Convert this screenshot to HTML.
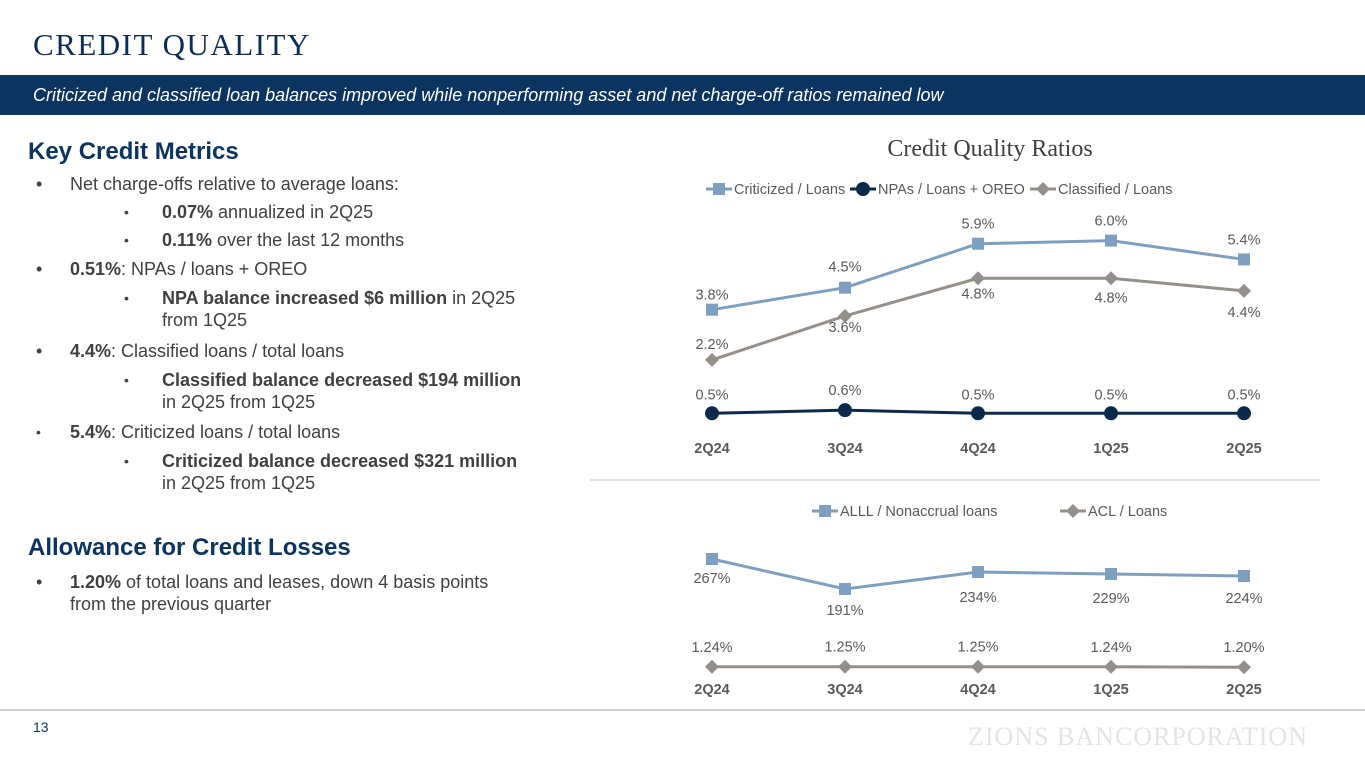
<!DOCTYPE html>
<html><head><meta charset="utf-8"><style>
body{margin:0;width:1365px;height:768px;background:#fff;font-family:"Liberation Sans",sans-serif;position:relative;overflow:hidden}
.abs{position:absolute}
.title{left:33px;top:27px;font-family:"Liberation Serif",serif;font-size:31px;color:#0d2d57;letter-spacing:1.5px}
.band{left:0;top:75px;width:1365px;height:40px;background:#0b3461}
.band span{position:absolute;left:33px;top:10px;color:#fff;font-style:italic;font-size:18px}
.h{font-size:24px;font-weight:bold;color:#0b3461}
.t{font-size:18px;color:#404040;line-height:22px}
</style></head><body>
<div class="abs title">CREDIT QUALITY</div>
<div class="abs band"><span>Criticized and classified loan balances improved while nonperforming asset and net charge-off ratios remained low</span></div>
<div class="abs h" style="left:28px;top:138px">Key Credit Metrics</div>
<div>
<div class="abs t" style="left:70px;top:173px"><span style="position:absolute;left:-34px">•</span>Net charge-offs relative to average loans:</div>
<div class="abs t" style="left:162px;top:201px"><span style="position:absolute;left:-38px;font-size:14px">•</span><b>0.07%</b> annualized in 2Q25</div>
<div class="abs t" style="left:162px;top:229px"><span style="position:absolute;left:-38px;font-size:14px">•</span><b>0.11%</b> over the last 12 months</div>
<div class="abs t" style="left:70px;top:258px"><span style="position:absolute;left:-34px">•</span><b>0.51%</b>: NPAs / loans + OREO</div>
<div class="abs t" style="left:162px;top:287px;width:420px"><span style="position:absolute;left:-38px;font-size:14px">•</span><b>NPA balance increased $6 million</b> in 2Q25<br>from 1Q25</div>
<div class="abs t" style="left:70px;top:340px"><span style="position:absolute;left:-34px">•</span><b>4.4%</b>: Classified loans / total loans</div>
<div class="abs t" style="left:162px;top:369px;width:420px"><span style="position:absolute;left:-38px;font-size:14px">•</span><b>Classified balance decreased $194 million</b><br>in 2Q25 from 1Q25</div>
<div class="abs t" style="left:70px;top:421px"><span style="position:absolute;left:-34px;font-size:14px">•</span><b>5.4%</b>: Criticized loans / total loans</div>
<div class="abs t" style="left:162px;top:450px;width:420px"><span style="position:absolute;left:-38px;font-size:14px">•</span><b>Criticized balance decreased $321 million</b><br>in 2Q25 from 1Q25</div>
</div>
<div class="abs h" style="left:28px;top:534px">Allowance for Credit Losses</div>
<div class="abs t" style="left:70px;top:571px;width:520px"><span style="position:absolute;left:-34px">•</span><b>1.20%</b> of total loans and leases, down 4 basis points<br>from the previous quarter</div>
<div class="abs" style="left:0;top:709px;width:1365px;height:2px;background:#d0d0d0"></div>
<div class="abs" style="left:33px;top:719px;font-size:14px;color:#0b3461">13</div>
<div class="abs" style="left:968px;top:722px;font-family:'Liberation Serif',serif;font-size:26px;color:#e4e4e4;letter-spacing:1px">ZIONS BANCORPORATION</div>
<svg class="abs" style="left:0;top:0" width="1365" height="768" id="chart">
<text x="990" y="156" text-anchor="middle" font-family="Liberation Serif,serif" font-size="24" fill="#404040">Credit Quality Ratios</text>
<line x1="590" y1="480" x2="1320" y2="480" stroke="#e0e0e0" stroke-width="2"/>
</svg>
<script>
const categories=["2Q24","3Q24","4Q24","1Q25","2Q25"];
const criticized=[3.8,4.5,5.9,6.0,5.4];
const npas=[0.5,0.6,0.5,0.5,0.5];
const classified=[2.2,3.6,4.8,4.8,4.4];
const alll=[267,191,234,229,224];
const acl=[1.24,1.25,1.25,1.24,1.20];
const NS="http://www.w3.org/2000/svg";
const svg=document.getElementById('chart');
const X=i=>712+i*133;
const Y1=v=>429-v*31.4;
const Y2=v=>559-(v-267)*0.395;
const Y3=v=>667-(v-1.22)*10;
function el(t,a,p){const e=document.createElementNS(NS,t);for(const k in a)e.setAttribute(k,a[k]);(p||svg).appendChild(e);return e;}
function txt(x,y,s,o){const e=el('text',Object.assign({x:x,y:y,'text-anchor':'middle','font-size':14.5,fill:'#595959'},o||{}));e.textContent=s;return e;}
function marker(type,x,y,c,g){
 if(type==='sq')return el('rect',{x:x-6,y:y-6,width:12,height:12,fill:c},g);
 if(type==='ci')return el('circle',{cx:x,cy:y,r:7,fill:c},g);
 return el('polygon',{points:`${x},${y-7} ${x+7},${y} ${x},${y+7} ${x-7},${y}`,fill:c},g);
}
function series(name,vals,Yf,color,type,fmt,dy){
 const g=el('g',{});
 
 
 el('polyline',{points:vals.map((v,i)=>X(i)+','+Yf(v)).join(' '),fill:'none',stroke:color,'stroke-width':3},g);
 vals.forEach((v,i)=>{const m=marker(type,X(i),Yf(v),color,g);
  
  
  const t=txt(X(i),Yf(v)+dy[i],fmt(v));g.appendChild(t);});
}
series('criticized-series',criticized,Y1,'#7f9fc0','sq',v=>v.toFixed(1)+'%',[-10,-16,-15,-15,-15]);
series('classified-series',classified,Y1,'#949089','di',v=>v.toFixed(1)+'%',[-11,16,20,24,26]);
series('npas-series',npas,Y1,'#0b2a4a','ci',v=>v.toFixed(1)+'%',[-14,-15,-14,-14,-14]);
series('alll-series',alll,Y2,'#7f9fc0','sq',v=>v+'%',[24,26,30,29,27]);
series('acl-series',acl,Y3,'#949089','di',v=>v.toFixed(2)+'%',[-15,-15,-15,-15,-15]);
categories.forEach((c,i)=>{
 let a=txt(X(i),453,c,{'font-weight':'bold',fill:'#595959'});
 
 let b=txt(X(i),694,c,{'font-weight':'bold',fill:'#595959'});
 
});
function legend(x,y,label,color,type,name){
 const g=el('g',{});
 
 
 el('line',{x1:x,y1:y,x2:x+26,y2:y,stroke:color,'stroke-width':3},g);
 marker(type,x+13,y,color,g);
 g.appendChild(txt(x+28,y+5,label,{'text-anchor':'start'}));
}
legend(706,189,'Criticized / Loans','#7f9fc0','sq','legend-criticized');
legend(850,189,'NPAs / Loans + OREO','#0b2a4a','ci','legend-npas');
legend(1030,189,'Classified / Loans','#949089','di','legend-classified');
legend(812,511,'ALLL / Nonaccrual loans','#7f9fc0','sq','legend-alll');
legend(1060,511,'ACL / Loans','#949089','di','legend-acl');
</script>
</body></html>
